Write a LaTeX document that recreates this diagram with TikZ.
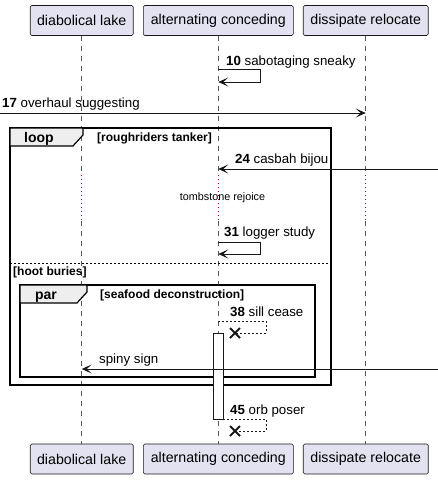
\documentclass[tikz,border=0pt]{standalone}
\usepackage{fontspec}
\setmainfont{Liberation Sans}
\usetikzlibrary{arrows.meta,calc}
\definecolor{partfill}{HTML}{E2E2F0}
\definecolor{partline}{HTML}{181818}
\definecolor{tabfill}{HTML}{EEEEEE}
\definecolor{delaycol}{HTML}{A80036}
\tikzset{
  part/.style={draw=partline, fill=partfill, rounded corners=1.5pt, line width=0.6pt, minimum height=30pt, inner xsep=6pt, font=\fontsize{14.2}{16}\selectfont, anchor=center},
  life/.style={draw=gray!70!black, dash pattern=on 5pt off 5pt, line width=0.6pt},
  delayline/.style={draw=delaycol, dash pattern=on 1pt off 3pt, line width=0.8pt},
  msg/.style={draw=partline, line width=0.9pt, -{Stealth[length=10pt,width=9pt,inset=5pt]}},
  dmsg/.style={draw=partline, line width=0.8pt, dash pattern=on 2pt off 2pt},
  lbl/.style={anchor=base west, inner sep=0pt, font=\fontsize{13.3}{15}\selectfont},
  frm/.style={draw=black, line width=1.5pt},
  tab/.style={draw=black, fill=tabfill, line width=1.2pt},
  tabtxt/.style={anchor=base, inner sep=0pt, font=\bfseries\fontsize{14}{16}\selectfont},
  cond/.style={anchor=base west, inner sep=0pt, font=\bfseries\fontsize{12}{14}\selectfont},
  xmark/.style={draw=partline, line width=1.8pt},
  act/.style={draw=partline, fill=white, line width=0.8pt}
}
\begin{document}
\begin{tikzpicture}[x=1pt,y=-1pt]
\useasboundingbox (0,0) rectangle (438,480);
% participants
\node[part, minimum width=103pt] (tA) at (81.7,20.5) {diabolical lake};
\node[part, minimum width=150pt] (tB) at (218.3,20.5) {alternating conceding};
\node[part, minimum width=125pt] (tC) at (365.7,20.5) {dissipate relocate};
\node[part, minimum width=103pt] (bA) at (81.7,459) {diabolical lake};
\node[part, minimum width=150pt] (bB) at (218.3,459) {alternating conceding};
\node[part, minimum width=125pt] (bC) at (365.7,459) {dissipate relocate};
% lifelines (with delay section)
\coordinate (dA1) at (81.7,175); \coordinate (dA2) at (81.7,221);
\coordinate (dB1) at (218.3,175); \coordinate (dB2) at (218.3,221);
\coordinate (dC1) at (365.7,175); \coordinate (dC2) at (365.7,221);
\draw[life] (tA.south) -- (dA1); \draw[delayline] (dA1) -- (dA2); \draw[life] (dA2) -- (bA.north);
\draw[life] (tB.south) -- (dB1); \draw[delayline] (dB1) -- (dB2); \draw[life] (dB2) -- (bB.north);
\draw[life] (tC.south) -- (dC1); \draw[delayline] (dC1) -- (dC2); \draw[life] (dC2) -- (bC.north);
% message 10
\coordinate (m10a) at (218.3,69); \coordinate (m10b) at (218.3,82);
\draw[msg] (m10a) -- (260,69) -- (260,82) -- (m10b);
\node[lbl] (l10) at (226,65) {\textbf{10} sabotaging sneaky};
% message 17
\coordinate (m17a) at (0,113); \coordinate (m17b) at (365.7,113);
\draw[msg] (m17a) -- (m17b);
\node[lbl] (l17) at (2,107) {\textbf{17} overhaul suggesting};
% loop frame
\draw[frm] (10,128) rectangle (331,385);
\draw[tab] (10,128) -- (83,128) -- (83,135) -- (73,146) -- (10,146) -- cycle;
\node[tabtxt] (looplbl) at (39,142) {loop};
\node[cond] (loopcond) at (97,141) {[roughriders tanker]};
% message 24
\coordinate (m24a) at (438,169); \coordinate (m24b) at (218.3,169);
\draw[msg] (m24a) -- (m24b);
\node[lbl] (l24) at (235,163.5) {\textbf{24} casbah bijou};
% delay text
\node[inner sep=0pt, font=\fontsize{10.8}{12}\selectfont] (delay) at (222.5,198) {tombstone rejoice};
% message 31
\coordinate (m31a) at (218.3,242); \coordinate (m31b) at (218.3,254);
\draw[msg] (m31a) -- (260,242) -- (260,254) -- (m31b);
\node[lbl] (l31) at (224,236) {\textbf{31} logger study};
% else
\draw[line width=0.8pt, dash pattern=on 2pt off 2pt] (10,263) -- (331,263);
\node[cond] (elsecond) at (13,275) {[hoot buries]};
% par frame
\draw[frm] (20,285) rectangle (315,377);
\draw[tab] (20,285) -- (87,285) -- (87,292) -- (77,303) -- (20,303) -- cycle;
\node[tabtxt] (parlbl) at (46,299) {par};
\node[cond] (parcond) at (100,298.5) {[seafood deconstruction]};
% message 38
\coordinate (m38a) at (218.3,321); \coordinate (m38x) at (235,333);
\draw[dmsg] (m38a) -- (266,321) -- (266,333) -- (m38x);
\draw[xmark] ($(m38x)+(-5,-5)$) -- ($(m38x)+(5,5)$) ($(m38x)+(-5,5)$) -- ($(m38x)+(5,-5)$);
\node[lbl] (l38) at (230,316) {\textbf{38} sill cease};
% activation
\draw[act] (213,333) rectangle (223,419);
% spiny sign
\coordinate (msa) at (438,369); \coordinate (msb) at (81.7,369);
\draw[msg] (msa) -- (msb);
\node[lbl] (lsp) at (99,363) {spiny sign};
% message 45
\coordinate (m45a) at (223,419); \coordinate (m45x) at (235,431);
\draw[dmsg] (m45a) -- (266,419) -- (266,431) -- (m45x);
\draw[xmark] ($(m45x)+(-5,-5)$) -- ($(m45x)+(5,5)$) ($(m45x)+(-5,5)$) -- ($(m45x)+(5,-5)$);
\node[lbl] (l45) at (230,414) {\textbf{45} orb poser};
\end{tikzpicture}
\end{document}
